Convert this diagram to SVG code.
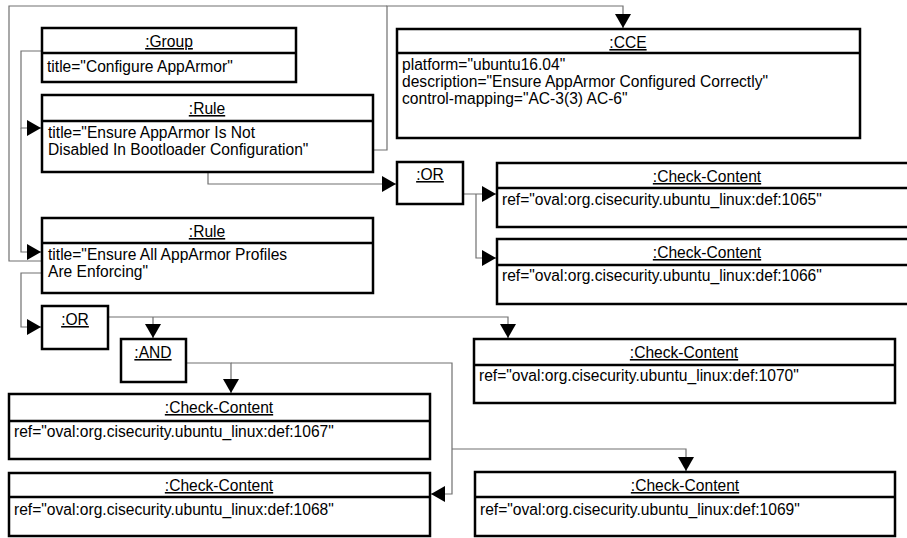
<svg xmlns="http://www.w3.org/2000/svg" width="907" height="538" viewBox="0 0 907 538">
<style>
.box{fill:#fff;stroke:#000;stroke-width:2.5}
.div{stroke:#000;stroke-width:2.5}
.t{font-family:"Liberation Sans",Arial,sans-serif;font-size:15.6px;fill:#000}
.h{text-anchor:middle;text-decoration:underline}
.c{fill:none;stroke:#707070;stroke-width:1.2}
</style>
<defs>
<marker id="arr" markerWidth="15" markerHeight="16" refX="14" refY="8" orient="auto" markerUnits="userSpaceOnUse">
<path d="M0,0 L14,8 L0,16 Z" fill="#000"/>
</marker>
</defs>
<rect width="907" height="538" fill="#fff"/>
<g id="connectors">
<path class="c" d="M42,51 H21 V128 H41" marker-end="url(#arr)"/>
<path class="c" d="M21,128 V252 H41" marker-end="url(#arr)"/>
<path class="c" d="M373,150 H387 V6 H623 V28" marker-end="url(#arr)"/>
<path class="c" d="M42,261 H9 V6 H387"/>
<path class="c" d="M208,172 V184 H396" marker-end="url(#arr)"/>
<path class="c" d="M463,194 H496" marker-end="url(#arr)"/>
<path class="c" d="M476,194 V258 H496" marker-end="url(#arr)"/>
<path class="c" d="M42,273 H21 V327 H41" marker-end="url(#arr)"/>
<path class="c" d="M108,317 H508 V338" marker-end="url(#arr)"/>
<path class="c" d="M153,317 V338" marker-end="url(#arr)"/>
<path class="c" d="M186,363 H231 V393" marker-end="url(#arr)"/>
<path class="c" d="M231,363 H452 V494 H431" marker-end="url(#arr)"/>
<path class="c" d="M452,449 H686 V471" marker-end="url(#arr)"/>
</g>
<g id="group">
<rect class="box" x="42" y="28" width="254" height="54"/>
<line class="div" x1="42" y1="53" x2="296" y2="53"/>
<text class="t h" x="169" y="47">:Group</text>
<text class="t" x="47" y="72">title="Configure AppArmor"</text>
</g>
<g id="rule1">
<rect class="box" x="42" y="95" width="331" height="77"/>
<line class="div" x1="42" y1="121" x2="373" y2="121"/>
<text class="t h" x="207" y="114">:Rule</text>
<text class="t" x="48" y="138">title="Ensure AppArmor Is Not</text>
<text class="t" x="48" y="155">Disabled In Bootloader Configuration"</text>
</g>
<g id="rule2">
<rect class="box" x="42" y="218" width="331" height="75"/>
<line class="div" x1="42" y1="243" x2="373" y2="243"/>
<text class="t h" x="207" y="237">:Rule</text>
<text class="t" x="48" y="260">title="Ensure All AppArmor Profiles</text>
<text class="t" x="48" y="277">Are Enforcing"</text>
</g>
<g id="cce">
<rect class="box" x="397" y="29" width="463" height="109"/>
<line class="div" x1="397" y1="53" x2="860" y2="53"/>
<text class="t h" x="628" y="48">:CCE</text>
<text class="t" x="402" y="70">platform="ubuntu16.04"</text>
<text class="t" x="402" y="87">description="Ensure AppArmor Configured Correctly"</text>
<text class="t" x="402" y="104">control-mapping="AC-3(3) AC-6"</text>
</g>
<g id="or1">
<rect class="box" x="397" y="162" width="66" height="42"/>
<text class="t h" x="430" y="180">:OR</text>
</g>
<g id="cc1065">
<rect class="box" x="497" y="163" width="420" height="64"/>
<line class="div" x1="497" y1="188" x2="917" y2="188"/>
<text class="t h" x="707" y="182">:Check-Content</text>
<text class="t" x="502" y="205">ref="oval:org.cisecurity.ubuntu_linux:def:1065"</text>
</g>
<g id="cc1066">
<rect class="box" x="497" y="239" width="420" height="65"/>
<line class="div" x1="497" y1="265" x2="917" y2="265"/>
<text class="t h" x="707" y="258">:Check-Content</text>
<text class="t" x="502" y="281">ref="oval:org.cisecurity.ubuntu_linux:def:1066"</text>
</g>
<g id="or2">
<rect class="box" x="42" y="306" width="66" height="43"/>
<text class="t h" x="75" y="325">:OR</text>
</g>
<g id="and">
<rect class="box" x="121" y="339" width="65" height="43"/>
<text class="t h" x="153" y="358">:AND</text>
</g>
<g id="cc1070">
<rect class="box" x="474" y="339" width="421" height="64"/>
<line class="div" x1="474" y1="365" x2="895" y2="365"/>
<text class="t h" x="684" y="358">:Check-Content</text>
<text class="t" x="479" y="381">ref="oval:org.cisecurity.ubuntu_linux:def:1070"</text>
</g>
<g id="cc1067">
<rect class="box" x="9" y="394" width="421" height="65"/>
<line class="div" x1="9" y1="421" x2="430" y2="421"/>
<text class="t h" x="219" y="413">:Check-Content</text>
<text class="t" x="14" y="437">ref="oval:org.cisecurity.ubuntu_linux:def:1067"</text>
</g>
<g id="cc1068">
<rect class="box" x="9" y="473" width="421" height="63"/>
<line class="div" x1="9" y1="497" x2="430" y2="497"/>
<text class="t h" x="219" y="491">:Check-Content</text>
<text class="t" x="14" y="515">ref="oval:org.cisecurity.ubuntu_linux:def:1068"</text>
</g>
<g id="cc1069">
<rect class="box" x="475" y="472" width="420" height="64"/>
<line class="div" x1="475" y1="497" x2="895" y2="497"/>
<text class="t h" x="685" y="491">:Check-Content</text>
<text class="t" x="480" y="515">ref="oval:org.cisecurity.ubuntu_linux:def:1069"</text>
</g>
</svg>
